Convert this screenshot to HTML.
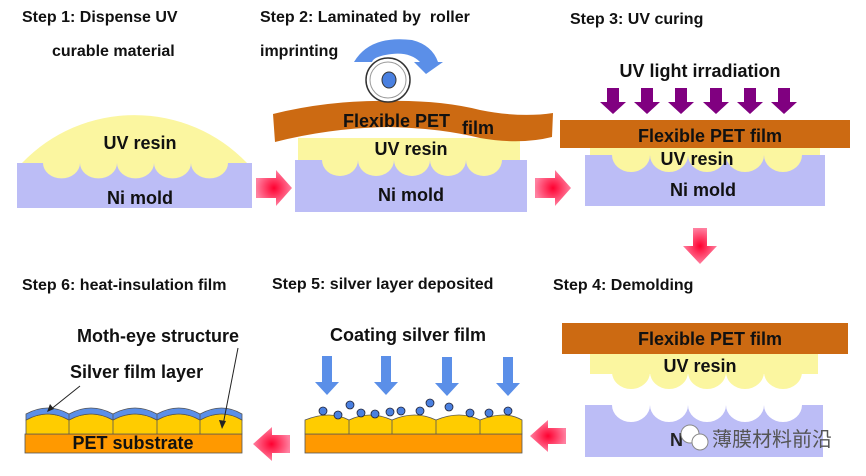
<!DOCTYPE html>
<html><head><meta charset="utf-8"><style>
html,body{margin:0;padding:0;background:#fff;}
svg{display:block;font-family:"Liberation Sans","Noto Sans CJK SC",sans-serif;}
.t{font-weight:bold;font-size:16px;fill:#111;}
.l{font-size:18px;font-weight:bold;fill:#111;}
</style></head><body>
<svg width="866" height="476" viewBox="0 0 866 476">
<defs>
<radialGradient id="pk"><stop offset="0" stop-color="#ff0030"/><stop offset="1" stop-color="#ff80a0"/></radialGradient>
</defs>
<!-- Titles -->
<text class="t" x="22" y="22">Step 1: Dispense UV</text>
<text class="t" x="52" y="56">curable material</text>
<text class="t" x="260" y="22">Step 2: Laminated by&#160; roller</text>
<text class="t" x="260" y="56">imprinting</text>
<text class="t" x="570" y="24">Step 3: UV curing</text>
<text class="t" x="22" y="290">Step 6: heat-insulation film</text>
<text class="t" x="272" y="289">Step 5: silver layer deposited</text>
<text class="t" x="553" y="290">Step 4: Demolding</text>

<!-- Step1 -->
<path d="M22 163 A156 156 0 0 1 247 163 Z" fill="#fbf6a0"/>
<rect x="17" y="163" width="235" height="45" fill="#bcbdf6"/>
<path d="M43 163 A18 15 0 0 0 80 163 A18 15 0 0 0 117 163 A18 15 0 0 0 154 163 A18 15 0 0 0 191 163 A18 15 0 0 0 228 163 Z" fill="#fbf6a0"/>
<text class="l" x="140" y="149" text-anchor="middle">UV resin</text>
<text class="l" x="140" y="204" text-anchor="middle">Ni mold</text>
<path d="M256 178 H276 V170 L292 188 L276 206 V198 H256 Z" fill="url(#pk)"/>

<!-- Step2 -->
<rect x="298" y="138" width="222" height="26" fill="#fbf6a0"/>
<rect x="295" y="160" width="232" height="52" fill="#bcbdf6"/>
<path d="M322 160 A18 16 0 0 0 358 160 A18 16 0 0 0 394 160 A18 16 0 0 0 430 160 A18 16 0 0 0 466 160 A18 16 0 0 0 502 160 Z" fill="#fbf6a0"/>
<path d="M273 114 Q330 100 388 101 Q440 100 480 110 Q520 118 553 113 L552 137 Q520 145 480 138 Q440 128 388 127 Q330 128 275 142 Z" fill="#cc6a12"/>
<text class="l" x="343" y="127">Flexible PET</text>
<text class="l" x="462" y="134">film</text>
<text class="l" x="411" y="155" text-anchor="middle">UV resin</text>
<text class="l" x="411" y="201" text-anchor="middle">Ni mold</text>
<circle cx="388" cy="80" r="22" fill="#fff" stroke="#333" stroke-width="1.5"/>
<circle cx="388" cy="80" r="18" fill="none" stroke="#999" stroke-width="1"/>
<ellipse cx="389" cy="80" rx="7" ry="8" fill="#4a80e0" stroke="#333"/>
<path d="M354 62 Q370 35 412 40 Q432 45 438 62 L443 62 L426 74 L414 62 L420 62 Q410 52 392 54 Q374 56 372 62 Z" fill="#5b8fe8"/>
<path d="M535 178 H555 V170 L571 188 L555 206 V198 H535 Z" fill="url(#pk)"/>

<!-- Step3 -->
<text class="l" x="700" y="77" text-anchor="middle">UV light irradiation</text>
<g fill="#800080">
<path d="M607 88h12v14h7l-13 12-13-12h7z"/>
<path d="M641 88h12v14h7l-13 12-13-12h7z"/>
<path d="M675 88h12v14h7l-13 12-13-12h7z"/>
<path d="M710 88h12v14h7l-13 12-13-12h7z"/>
<path d="M744 88h12v14h7l-13 12-13-12h7z"/>
<path d="M778 88h12v14h7l-13 12-13-12h7z"/>
</g>
<rect x="590" y="146" width="230" height="12" fill="#fbf6a0"/>
<rect x="585" y="155" width="240" height="51" fill="#bcbdf6"/>
<path d="M612 155 A19 17 0 0 0 650 155 A19 17 0 0 0 688 155 A19 17 0 0 0 726 155 A19 17 0 0 0 764 155 A19 17 0 0 0 802 155 Z" fill="#fbf6a0"/>
<rect x="560" y="120" width="290" height="28" fill="#cc6a12"/>
<text class="l" x="710" y="142" text-anchor="middle">Flexible PET film</text>
<text class="l" x="697" y="165" text-anchor="middle">UV resin</text>
<text class="l" x="703" y="196" text-anchor="middle">Ni mold</text>
<path d="M693 228 H707 V246 H717 L700 264 L683 246 H693 Z" fill="url(#pk)"/>

<!-- Step4 -->
<rect x="590" y="352" width="228" height="22" fill="#fbf6a0"/>
<path d="M612 372 A19 17 0 0 0 650 372 A19 17 0 0 0 688 372 A19 17 0 0 0 726 372 A19 17 0 0 0 764 372 A19 17 0 0 0 802 372 Z" fill="#fbf6a0"/>
<rect x="562" y="323" width="286" height="31" fill="#cc6a12"/>
<text class="l" x="710" y="345" text-anchor="middle">Flexible PET film</text>
<text class="l" x="700" y="372" text-anchor="middle">UV resin</text>
<rect x="585" y="405" width="238" height="52" fill="#bcbdf6"/>
<path d="M612 405 A19 17 0 0 0 650 405 A19 17 0 0 0 688 405 A19 17 0 0 0 726 405 A19 17 0 0 0 764 405 A19 17 0 0 0 802 405 Z" fill="#fff"/>
<text x="670" y="446" font-size="18" font-weight="bold" fill="#222">N</text>
<circle cx="690" cy="434" r="9" fill="#fff" stroke="#888"/>
<circle cx="700" cy="442" r="8" fill="#fff" stroke="#888"/>
<text x="712" y="446" font-size="20" fill="#555">薄膜材料前沿</text>
<path d="M566 428 H548 V420 L530 436 L548 452 V444 H566 Z" fill="url(#pk)"/>

<!-- Step5 -->
<text class="l" x="408" y="341" text-anchor="middle">Coating silver film</text>
<g fill="#5b8fe8">
<path d="M322 356h10v26h7l-12 13-12-13h7z"/>
<path d="M381 356h10v26h7l-12 13-12-13h7z"/>
<path d="M442 357h10v26h7l-12 13-12-13h7z"/>
<path d="M503 357h10v26h7l-12 13-12-13h7z"/>
</g>
<rect x="305" y="434" width="217" height="19" fill="#ff9900" stroke="#555" stroke-width="0.8"/>
<path d="M305 434 V420 Q330 410 349 420 Q370 410 392 420 Q415 410 436 420 Q460 410 480 420 Q505 410 522 420 V434 Z" fill="#ffcc00" stroke="#555" stroke-width="0.8"/>
<g stroke="#555" stroke-width="0.8"><line x1="349" y1="420" x2="349" y2="434"/><line x1="392" y1="420" x2="392" y2="434"/><line x1="436" y1="420" x2="436" y2="434"/><line x1="480" y1="420" x2="480" y2="434"/></g>
<g fill="#4a80e0" stroke="#223" stroke-width="0.8">
<circle cx="323" cy="411" r="4"/><circle cx="338" cy="415" r="4"/><circle cx="350" cy="405" r="4"/><circle cx="361" cy="413" r="4"/><circle cx="375" cy="414" r="4"/><circle cx="390" cy="412" r="4"/><circle cx="401" cy="411" r="4"/><circle cx="420" cy="411" r="4"/><circle cx="430" cy="403" r="4"/><circle cx="449" cy="407" r="4"/><circle cx="470" cy="413" r="4"/><circle cx="489" cy="413" r="4"/><circle cx="508" cy="411" r="4"/>
</g>
<path d="M290 435 H272 V427 L253 444 L272 461 V453 H290 Z" fill="url(#pk)"/>

<!-- Step6 -->
<text class="l" x="77" y="342">Moth-eye structure</text>
<text class="l" x="70" y="378">Silver film layer</text>
<rect x="25" y="434" width="217" height="19" fill="#ff9900" stroke="#555" stroke-width="0.8"/>
<path d="M26 434 V420 Q48 408 69 420 Q91 408 113 420 Q135 408 157 420 Q179 408 200 420 Q222 408 242 420 V434 Z" fill="#ffcc00" stroke="#555" stroke-width="0.8"/>
<path d="M26 420 V414 Q48 402 69 414 Q91 402 113 414 Q135 402 157 414 Q179 402 200 414 Q222 402 242 414 V420 Q222 408 200 420 Q179 408 157 420 Q135 408 113 420 Q91 408 69 420 Q48 408 26 420 Z" fill="#5b8fe8" stroke="#555" stroke-width="0.8"/>
<g stroke="#555" stroke-width="0.8"><line x1="69" y1="414" x2="69" y2="434"/><line x1="113" y1="414" x2="113" y2="434"/><line x1="157" y1="414" x2="157" y2="434"/><line x1="200" y1="414" x2="200" y2="434"/></g>
<text class="l" x="133" y="449" text-anchor="middle">PET substrate</text>
<line x1="80" y1="386" x2="50" y2="410" stroke="#222" stroke-width="1"/>
<path d="M47 412 L50 404 L54 409 Z" fill="#222"/>
<line x1="238" y1="348" x2="223" y2="425" stroke="#222" stroke-width="1"/>
<path d="M222 429 L219 420 L226 421 Z" fill="#222"/>
</svg>
</body></html>
